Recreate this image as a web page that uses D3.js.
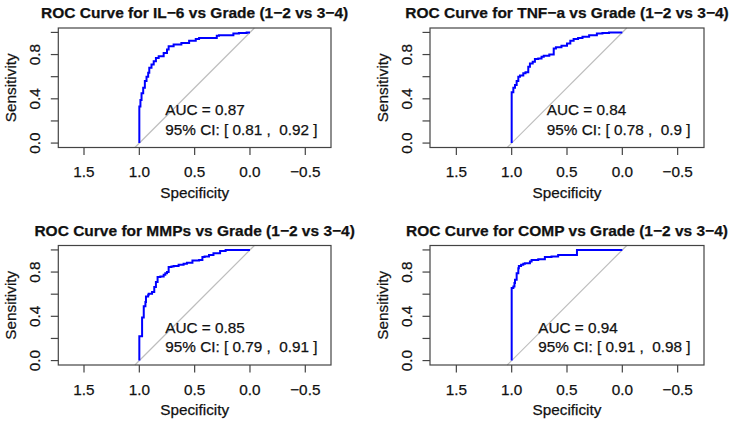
<!DOCTYPE html>
<html>
<head>
<meta charset="utf-8">
<script src="https://cdn.jsdelivr.net/npm/d3@7"></script>
<style>
  body { margin: 0; background: #fff; }
  svg { display: block; font-family: "Liberation Sans", Arial, sans-serif; }
  text { white-space: pre; fill: #111; stroke: #111; stroke-width: 0.25; }
</style>
</head>
<body>
<svg id="chart" width="730" height="425"></svg>
<script>
// values
const markers = ["IL\u22126", "TNF\u2212a", "MMPs", "COMP"];
const aucValues = ["0.87", "0.84", "0.85", "0.94"];
const ciLower = ["0.81", "0.78", "0.79", "0.91"];
const ciUpper = ["0.92", "0.9", "0.91", "0.98"];
const xTicks = [1.5, 1.0, 0.5, 0.0, -0.5];
const yTicks = [0, 0.2, 0.4, 0.6, 0.8, 1.0];
const yTickLabels = [0, 0.4, 0.8];

const specIL6 = [1, 1, 0.99, 0.98, 0.965, 0.95, 0.935, 0.92, 0.91, 0.89, 0.87, 0.85, 0.825, 0.78, 0.75, 0.735, 0.69, 0.62, 0.55, 0.49, 0.46, 0.30, 0.28, 0.15, 0.10, 0.03, 0];
const sensIL6 = [0, 0.33, 0.33, 0.39, 0.45, 0.50, 0.56, 0.60, 0.635, 0.68, 0.71, 0.74, 0.77, 0.785, 0.815, 0.845, 0.875, 0.89, 0.905, 0.925, 0.94, 0.95, 0.97, 0.975, 0.99, 0.995, 1];

const specTNF = [1, 1, 0.985, 0.97, 0.955, 0.94, 0.925, 0.895, 0.875, 0.85, 0.835, 0.81, 0.79, 0.76, 0.73, 0.71, 0.66, 0.62, 0.60, 0.55, 0.50, 0.47, 0.44, 0.40, 0.36, 0.30, 0.23, 0.18, 0.12, 0];
const sensTNF = [0, 0.435, 0.46, 0.50, 0.525, 0.56, 0.60, 0.61, 0.63, 0.64, 0.69, 0.72, 0.735, 0.76, 0.765, 0.78, 0.79, 0.80, 0.855, 0.865, 0.88, 0.90, 0.925, 0.94, 0.95, 0.96, 0.975, 0.99, 0.995, 1];

const specMMP = [1, 1, 0.975, 0.975, 0.96, 0.96, 0.945, 0.94, 0.92, 0.915, 0.885, 0.865, 0.85, 0.835, 0.81, 0.78, 0.765, 0.75, 0.735, 0.71, 0.69, 0.645, 0.60, 0.57, 0.52, 0.46, 0.43, 0.41, 0.37, 0.33, 0.27, 0.22, 0.19, 0];
const sensMMP = [0, 0.22, 0.22, 0.37, 0.39, 0.47, 0.49, 0.53, 0.58, 0.595, 0.605, 0.62, 0.665, 0.71, 0.755, 0.76, 0.775, 0.79, 0.80, 0.845, 0.85, 0.855, 0.865, 0.875, 0.885, 0.905, 0.91, 0.935, 0.94, 0.955, 0.97, 0.99, 1, 1];

const specCOMP = [1, 1, 0.985, 0.975, 0.97, 0.955, 0.955, 0.94, 0.935, 0.915, 0.895, 0.88, 0.835, 0.82, 0.76, 0.70, 0.64, 0.58, 0.41, 0.41, 0];
const sensCOMP = [0, 0.655, 0.655, 0.67, 0.70, 0.73, 0.775, 0.79, 0.835, 0.855, 0.865, 0.875, 0.88, 0.895, 0.91, 0.915, 0.935, 0.94, 0.955, 1, 1];

const specs = [specIL6, specTNF, specMMP, specCOMP];
const senss = [sensIL6, sensTNF, sensMMP, sensCOMP];

// plot boxes (pixel layout of the 2x2 grid)
const colX = [[58.3, 331], [430, 704]];
const rowY = [[28, 147.5], [245.5, 365]];

const svg = d3.select("#chart");
const fmt = d3.format(".1f");

markers.forEach((m, i) => {
  const [x0, x1] = colX[i % 2];
  const [y0, y1] = rowY[Math.floor(i / 2)];

  // asp = 1, like pROC: same pixels per unit on both axes
  const k = (y1 - y0) / 1.08;
  const half = (x1 - x0) / 2 / k;
  const x = d3.scaleLinear().domain([0.5 + half, 0.5 - half]).range([x0, x1]);
  const y = d3.scaleLinear().domain([-0.04, 1.04]).range([y1, y0]);

  const g = svg.append("g");

  // title
  g.append("text")
    .attr("x", (x0 + x1) / 2)
    .attr("y", y0 - 10)
    .attr("text-anchor", "middle")
    .attr("font-weight", "bold")
    .attr("font-size", 15.5)
    .text(`ROC Curve for ${m} vs Grade (1\u22122 vs 3\u22124)`);

  // chance line, clipped to the box
  const yd = y.domain();
  g.append("line")
    .attr("x1", x(1 - yd[0])).attr("y1", y(yd[0]))
    .attr("x2", x(1 - yd[1])).attr("y2", y(yd[1]))
    .attr("stroke", "#bdbdbd")
    .attr("stroke-width", 1.2);

  // roc curve
  const pts = specs[i].map((s, j) => [s, senss[i][j]]);
  g.append("path")
    .datum(pts)
    .attr("fill", "none")
    .attr("stroke", "#0000ff")
    .attr("stroke-width", 2)
    .attr("d", d3.line().x(d => x(d[0])).y(d => y(d[1])).curve(d3.curveStepBefore));

  // box
  g.append("rect")
    .attr("x", x0).attr("y", y0)
    .attr("width", x1 - x0).attr("height", y1 - y0)
    .attr("fill", "none")
    .attr("stroke", "#444")
    .attr("stroke-width", 1.2);

  // x axis
  const xa = g.append("g").attr("transform", `translate(0,${y1})`);
  xa.selectAll("line").data(xTicks).join("line")
    .attr("x1", d => x(d)).attr("x2", d => x(d))
    .attr("y1", 0).attr("y2", 7.5)
    .attr("stroke", "#444").attr("stroke-width", 1.2);
  xa.selectAll("text").data(xTicks).join("text")
    .attr("x", d => x(d))
    .attr("y", 29.5)
    .attr("text-anchor", "middle")
    .attr("font-size", 15.3)
    .text(d => fmt(d));
  g.append("text")
    .attr("x", (x0 + x1) / 2)
    .attr("y", y1 + 50)
    .attr("text-anchor", "middle")
    .attr("font-size", 15.3)
    .text("Specificity");

  // y axis
  const ya = g.append("g").attr("transform", `translate(${x0},0)`);
  ya.selectAll("line").data(yTicks).join("line")
    .attr("x1", 0).attr("x2", -7.5)
    .attr("y1", d => y(d)).attr("y2", d => y(d))
    .attr("stroke", "#444").attr("stroke-width", 1.2);
  ya.selectAll("text").data(yTickLabels).join("text")
    .attr("transform", d => `translate(-18.3,${y(d)}) rotate(-90)`)
    .attr("text-anchor", "middle")
    .attr("font-size", 15.3)
    .text(d => fmt(d));
  g.append("text")
    .attr("transform", `translate(${x0 - 42},${(y0 + y1) / 2}) rotate(-90)`)
    .attr("text-anchor", "middle")
    .attr("font-size", 15.3)
    .text("Sensitivity");

  // auc legend, bottom right
  const lines = [`AUC = ${aucValues[i]}`, `95% CI: [ ${ciLower[i]} ,  ${ciUpper[i]} ]`];
  const tx = g.selectAll(".auc").data(lines).join("text")
    .attr("class", "auc")
    .attr("y", (d, j) => y1 - 32.5 + j * 19.5)
    .attr("font-size", 15.3)
    .text(d => d);
  const w = d3.max(tx.nodes(), n => n.getComputedTextLength());
  tx.attr("x", x1 - 13.5 - w);
});
</script>
</body>
</html>
